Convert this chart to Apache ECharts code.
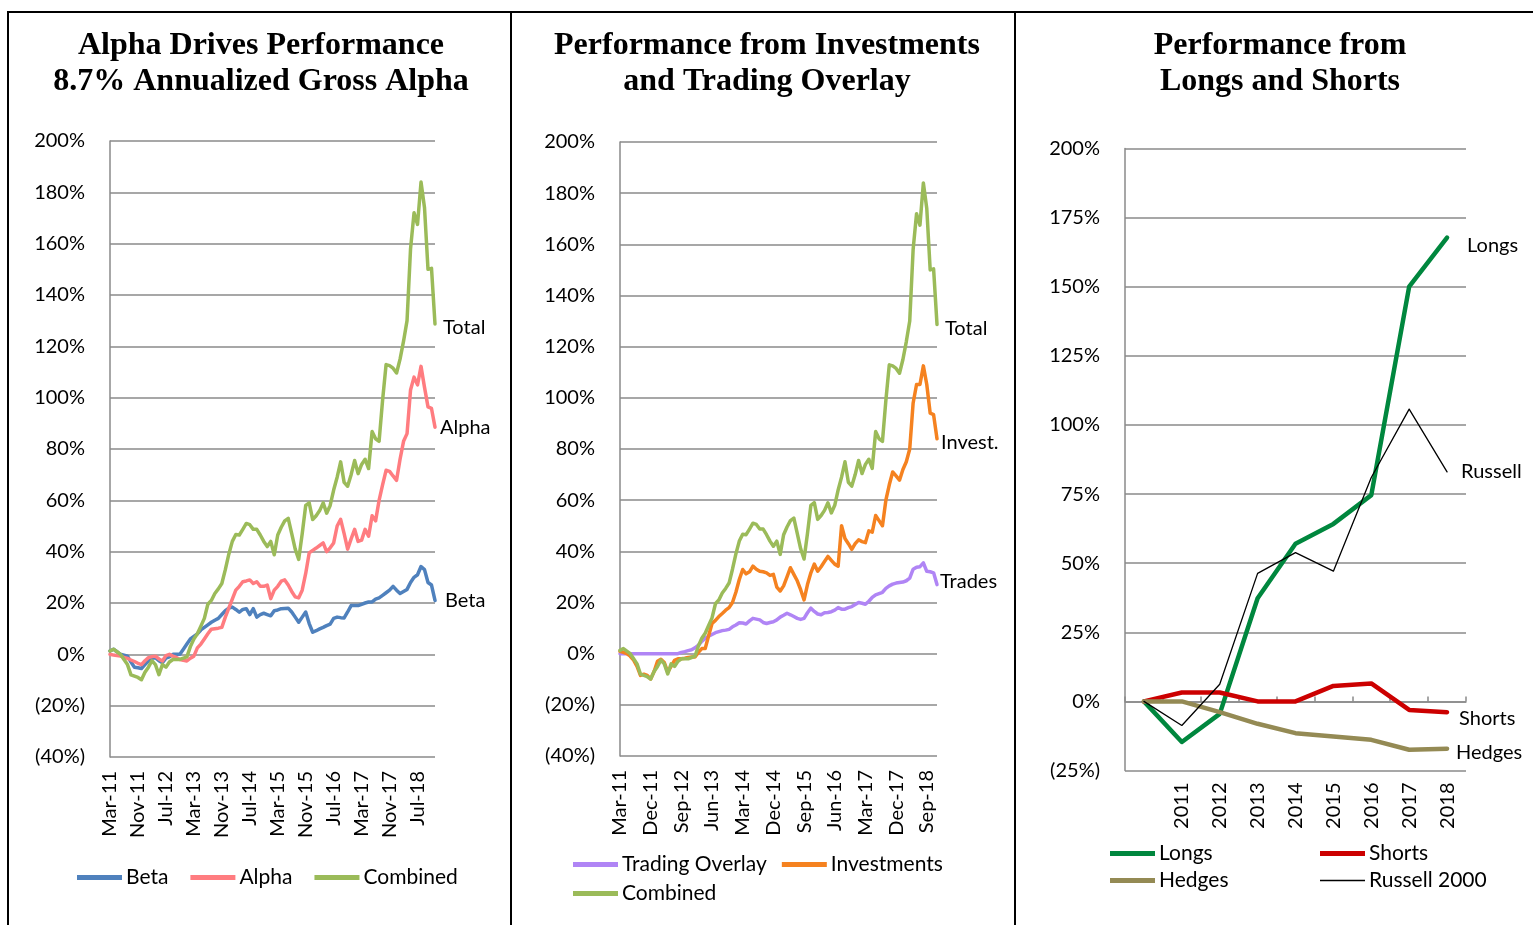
<!DOCTYPE html>
<html>
<head>
<meta charset="utf-8">
<script src="https://cdn.jsdelivr.net/npm/echarts@6/dist/echarts.min.js"></script>
<style>
html, body { margin: 0; padding: 0; background: #fff; }
#main { width: 1533px; height: 925px; }
</style>
</head>
<body>
<div id="main"></div>
<script>
// monthly categories Mar-11 .. Dec-18
var monthNames = ['Jan','Feb','Mar','Apr','May','Jun','Jul','Aug','Sep','Oct','Nov','Dec'];
var months = [];
for (var y = 2011; y <= 2018; y++) {
    for (var m = 0; m < 12; m++) {
        if (y == 2011 && m < 2) continue;
        months.push(monthNames[m] + '-' + String(y).slice(2));
    }
}
var years = ['', '2011', '2012', '2013', '2014', '2015', '2016', '2017', '2018'];

// panel 1 / 2 series (cumulative %)
var beta = [1.3, 2, 1, 0, -0.3, -0.7, -3, -5, -5.2, -5.5,
    -4, -2.6, -1.5, -1.3, -2.5, -3.3, -1.5, -1, 0, 0,
    0, 2, 4, 6, 7, 8, 9.5, 10.5, 11.5, 12.5,
    13.3, 14, 15.5, 17, 18, 18.4, 17.5, 16.4, 17.5, 17.8,
    15.5, 17.8, 14.5, 15.5, 16, 15.5, 15, 17, 17.3, 17.8,
    17.9, 18, 16.5, 14.5, 12.5, 14.5, 16.5, 12, 8.6, 9.2,
    9.9, 10.5, 11.2, 11.8, 14, 14.5, 14.3, 14.2, 16.5, 19,
    19, 19, 19.5, 20, 20.4, 20.4, 21.5, 22, 23, 24,
    25, 26.5, 25, 23.7, 24.5, 25.3, 28, 30, 31, 34.2,
    33, 28, 27, 21];
var alpha = [0, -0.3, -0.5, -0.7, -1.2, -1.6, -2.2, -2.8, -3.5, -4,
    -2.5, -1.3, -0.9, -0.7, -1.8, -2.6, -0.5, 0, -0.7, -1.2,
    -2, -2.3, -2.6, -1.5, -0.7, 2.5, 4, 6, 8, 9.8,
    10, 10.2, 10.5, 14.5, 18, 21.5, 25, 26.5, 28.3, 28.6,
    29, 27.6, 28.3, 26.5, 26.5, 27, 21.7, 25, 26.5, 28.5,
    29, 27, 24.5, 22.4, 22, 25, 31.5, 39.5, 40.5, 41.4,
    42.4, 43.4, 40, 41.5, 43.4, 50, 52.6, 47, 41, 45,
    48.7, 44, 44.5, 48.7, 46, 54, 52, 60, 66, 71.7,
    71.3, 69.5, 67.8, 76, 83, 86, 103, 108, 105, 112.2,
    104, 96.4, 95.8, 88.5];
var combined = [1.3, 2, 1, 0, -2, -4, -8, -8.5, -9, -9.9,
    -7, -5, -2.5, -4, -7.9, -4, -5, -3, -2, -2,
    -2, -1.5, -1, 3, 6, 8, 11, 14, 19.5, 21,
    23.7, 25.5, 27.6, 33, 39, 44, 46.7, 46.5, 48.7, 51,
    50.5, 48.7, 48.7, 46.5, 44, 42, 44, 38.8, 46.5, 49.5,
    52, 53, 47, 41, 37, 47, 58, 59, 52.5, 54,
    56, 59, 55, 58, 64, 69, 75, 67, 65.5, 70,
    75.5, 70.4, 74, 76, 72.4, 86.8, 84, 83, 99, 112.9,
    112.5, 111.5, 109.6, 115, 122, 130, 158, 172, 167.5, 184,
    174, 150, 150.4, 128.7];
var trading = [0, 0, 0, 0, 0, 0, 0, 0, 0, 0,
    0, 0, 0, 0, 0, 0, 0, 0, 0.5, 0.8,
    1.2, 1.5, 2.3, 3.3, 4.8, 6, 6.8, 7.5, 8.2, 8.6,
    9, 9.2, 9.5, 10.5, 11.2, 12.1, 12, 11.6, 12.8, 13.8,
    13.5, 13.2, 12.2, 11.8, 12.2, 12.5, 13.2, 14.3, 15, 15.8,
    15.2, 14.5, 13.8, 13.4, 13.8, 16, 17.8, 16.5, 15.5, 15.2,
    16, 16.1, 16.4, 17, 18, 17.4, 17.4, 18, 18.4, 19.2,
    20, 19.7, 19.3, 20.5, 22, 23, 23.5, 24, 25.5, 26.5,
    27.2, 27.6, 27.8, 28, 28.5, 29.5, 33, 33.8, 34, 35.5,
    32.2, 32, 31.6, 27];
var investments = [0.9, 0.5, 0, -1, -2.5, -5, -8.5, -8, -8.5, -9.9,
    -7, -3, -2.2, -3.5, -7.2, -5, -2.6, -2, -2, -1.8,
    -1.5, -1.3, -1.3, 0.5, 2, 2, 7, 11.8, 13, 14.5,
    15.7, 17, 18, 20, 24, 29, 32.9, 31.2, 32, 34.2,
    33, 32.2, 32, 31.6, 30.6, 31, 26, 24.5, 26.5, 30,
    33.6, 31, 28.5, 25, 21, 27, 31.6, 35, 32.2, 34,
    36, 38, 36.5, 35, 34.2, 50, 45, 43, 40.8, 43,
    44.5, 43.8, 43.4, 48, 47.5, 54, 52, 50, 60, 66,
    71, 69.5, 67.8, 72, 75, 80, 98, 105.2, 105.2, 112.5,
    105.2, 94, 93.4, 84];

// panel 3 yearly series
var longs = [0, -14.7, -4.5, 37.3, 57, 64.2, 74.6, 150, 167.8];
var shorts = [0, 3.2, 3.2, 0, 0, 5.6, 6.5, -3.1, -3.9];
var hedges = [0, 0, -3.9, -8.1, -11.5, -12.7, -13.9, -17.5, -17.1];
var russell = [0, -8.7, 6.2, 46.3, 53.8, 47.1, 81, 105.7, 83];

var FONT = 'Lato';
var GRAY = '#8a8a8a';
var THICK = 'path://M0,0L45,0L45,5L0,5Z';
var THIN = 'path://M0,0L45,0L45,1.3L0,1.3Z';

function pct(v) {
    return v < 0 ? '(' + Math.abs(v) + '%)' : v + '%';
}

function titleOf(text, x) {
    return {
        text: text, left: x, top: 23, textAlign: 'center',
        textStyle: { fontFamily: 'Liberation Serif', fontWeight: 'bold', fontSize: 32, lineHeight: 36, color: '#000' }
    };
}

function monthAxis(grid, every) {
    return {
        type: 'category', gridIndex: grid, data: months, boundaryGap: false,
        axisLine: { show: false }, axisTick: { show: false },
        axisLabel: { rotate: 90, interval: every - 1, fontSize: 20, fontFamily: FONT, color: '#000', margin: 14 }
    };
}

function valueAxis(grid, min, max, step) {
    return {
        type: 'value', gridIndex: grid, min: min, max: max, interval: step,
        axisLine: { show: true, lineStyle: { color: GRAY, width: 1.5 } },
        axisTick: { show: false },
        splitLine: { show: true, lineStyle: { color: GRAY, width: 1.5 } },
        axisLabel: { formatter: pct, fontSize: 20, fontFamily: FONT, color: '#000', margin: 25 }
    };
}

function line(name, x, y, data, color, width, tag, offset) {
    var s = {
        name: name, type: 'line', xAxisIndex: x, yAxisIndex: y, data: data,
        symbol: 'none', smooth: false, animation: false,
        lineStyle: { color: color, width: width, cap: 'round', join: 'round' }, itemStyle: { color: color }
    };
    if (tag) {
        s.endLabel = { show: true, formatter: tag, fontSize: 20, fontFamily: FONT, color: '#000',
            distance: offset[0], offset: [0, offset[1]] };
    }
    return s;
}

function legendOf(left, top, names, extra) {
    var l = {
        left: left, top: top, padding: 0, itemWidth: 45, itemHeight: 14, itemGap: 24,
        textStyle: { fontSize: 21, fontFamily: FONT, color: '#000', padding: [0, 0, 0, -1] },
        data: names.map(function (n) { return { name: n, icon: n == 'Russell 2000' ? THIN : THICK }; })
    };
    for (var k in extra) l[k] = extra[k];
    return l;
}

var myChart = echarts.init(document.getElementById('main'));
option = {
    backgroundColor: '#fff',
    animation: false,
    title: [
        titleOf('Alpha Drives Performance\n8.7% Annualized Gross Alpha', 256),
        titleOf('Performance from Investments\nand Trading Overlay', 762),
        titleOf('Performance from\nLongs and Shorts', 1275)
    ],
    grid: [
        { left: 110, top: 141, width: 325, height: 616 },
        { left: 620, top: 142, width: 317, height: 614 },
        { left: 1125, top: 148.5, width: 341, height: 622 }
    ],
    xAxis: [
        monthAxis(0, 8),
        monthAxis(1, 9),
        {
            type: 'category', gridIndex: 2, data: years, boundaryGap: true,
            axisLine: { show: false, onZero: false }, axisTick: { show: false },
            axisLabel: { rotate: 90, interval: 0, fontSize: 20, fontFamily: FONT, color: '#000', margin: 12 }
        },
        {
            type: 'category', gridIndex: 2, data: years, boundaryGap: true,
            axisLine: { show: true, onZero: true, lineStyle: { color: GRAY, width: 1.5 } },
            axisTick: { show: true, length: 5, lineStyle: { color: GRAY, width: 1.5 } },
            axisLabel: { show: false }
        }
    ],
    yAxis: [
        valueAxis(0, -40, 200, 20),
        valueAxis(1, -40, 200, 20),
        valueAxis(2, -25, 200, 25)
    ],
    legend: [
        legendOf(77, 867, ['Beta', 'Alpha', 'Combined'], { itemGap: 22 }),
        legendOf(573, 854, ['Trading Overlay', 'Investments'], { itemGap: 15 }),
        legendOf(573, 883, ['Combined'], {}),
        legendOf(1110, 843, ['Longs', 'Hedges'], { orient: 'vertical', itemGap: 6 }),
        legendOf(1320, 843, ['Shorts', 'Russell 2000'], { orient: 'vertical', itemGap: 6 })
    ],
    graphic: [
        { type: 'line', shape: { x1: 7, y1: 12, x2: 1533, y2: 12 }, style: { stroke: '#000', lineWidth: 2 } },
        { type: 'line', shape: { x1: 8, y1: 12, x2: 8, y2: 925 }, style: { stroke: '#000', lineWidth: 2 } },
        { type: 'line', shape: { x1: 511, y1: 12, x2: 511, y2: 925 }, style: { stroke: '#000', lineWidth: 2 } },
        { type: 'line', shape: { x1: 1015, y1: 12, x2: 1015, y2: 925 }, style: { stroke: '#000', lineWidth: 2 } }
    ],
    series: [
        line('Beta', 0, 0, beta, '#4F81BD', 3.5, 'Beta', [10, 0]),
        line('Alpha', 0, 0, alpha, '#FF7C80', 3.5, 'Alpha', [5, 0]),
        line('Combined', 0, 0, combined, '#9BBB59', 3.5, 'Total', [8, 4]),
        line('Trading Overlay', 1, 1, trading, '#B085F5', 3.5, 'Trades', [3, -3]),
        line('Investments', 1, 1, investments, '#F58220', 3.5, 'Invest.', [4, 4]),
        line('Combined', 1, 1, combined, '#9BBB59', 3.5, 'Total', [8, 4]),
        line('Longs', 2, 2, longs, '#00873E', 4.5, 'Longs', [20, 8]),
        line('Shorts', 2, 2, shorts, '#CC0000', 4.5, 'Shorts', [12, 6]),
        line('Hedges', 2, 2, hedges, '#948A54', 4.5, 'Hedges', [9, 4]),
        line('Russell 2000', 2, 2, russell, '#000000', 1.3, 'Russell', [14, 0])
    ]
};
myChart.setOption(option);
</script>
</body>
</html>
